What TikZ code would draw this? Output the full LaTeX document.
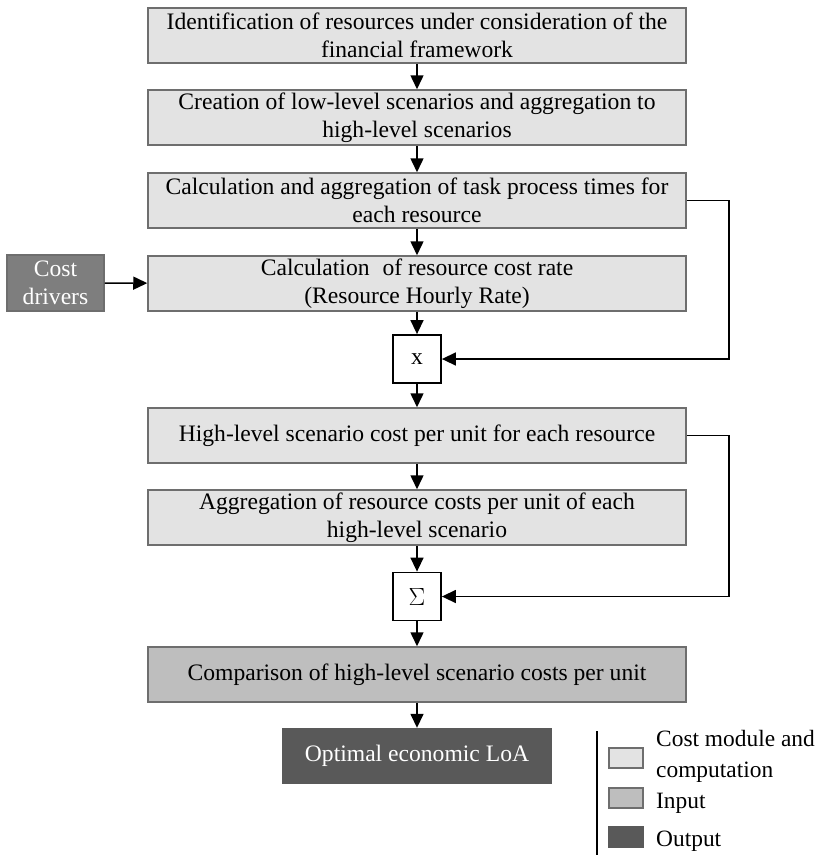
\documentclass[tikz,border=0pt]{standalone}
\usepackage{fontspec}
\setmainfont{Liberation Serif}
\usetikzlibrary{arrows.meta}
\definecolor{modfill}{HTML}{E3E3E3}
\definecolor{infill}{HTML}{BEBEBE}
\definecolor{drvfill}{HTML}{7E7E7E}
\definecolor{outfill}{HTML}{595959}
\definecolor{edge}{HTML}{6E6E6E}
\tikzset{
  boxfont/.style={font=\fontsize{23.6}{28}\selectfont},
  module/.style={draw=edge, line width=1.5pt, fill=modfill, minimum width=538pt,
    minimum height=55pt, inner sep=0pt, align=center, boxfont},
  inputbox/.style={module, fill=infill},
  driver/.style={draw=edge, line width=1.5pt, fill=drvfill, text=white,
    minimum width=97pt, minimum height=56pt, inner sep=0pt, align=center,
    boxfont},
  outbox/.style={draw=none, fill=outfill, text=white, minimum width=270pt,
    minimum height=56pt, inner sep=0pt, boxfont},
  opbox/.style={draw=black, line width=1.8pt, fill=white, minimum width=48pt,
    minimum height=48pt, inner sep=0pt, boxfont},
  flow/.style={draw=black, line width=1.5pt,
    -{Triangle[length=14pt,width=13pt]}},
  keybox/.style={draw=edge, line width=1.2pt, minimum width=34pt,
    minimum height=20pt, inner sep=0pt},
  keytext/.style={anchor=base west, inner sep=0pt,
    font=\fontsize{23.4}{30}\selectfont}
}
\begin{document}
\begin{tikzpicture}[x=1pt, y=-1pt]
\useasboundingbox (0,0) rectangle (821,855);

% main chain of steps
\node[module] (ident) at (417,35.5) {Identification of resources under consideration of the\\financial framework};
\node[module] (create) at (417,117.5) {Creation of low-level scenarios and aggregation to\\high-level scenarios};
\node[module] (times) at (417,200.5) {Calculation and aggregation of task process times for\\each resource};
\node[module] (rate) at (417,283.5) {Calculation\hspace{0.3em} of resource cost rate\\(Resource Hourly Rate)};
\node[opbox] (mult) at (417,359) {x};
\node[module] (hlcost) at (417,435.5) {High-level scenario cost per unit for each resource};
\node[module] (aggr) at (417,517.5) {Aggregation of resource costs per unit of each\\high-level scenario};
\node[opbox] (sum) at (417,596.5) {$\Sigma$};
\node[inputbox] (comp) at (417,674.5) {Comparison of high-level scenario costs per unit};
\node[outbox] (loa) at (417,756) {Optimal economic LoA};
\node[driver] (drivers) at (55.5,283) {Cost\\drivers};

% connectors
\draw[flow] (ident) -- (create);
\draw[flow] (create) -- (times);
\draw[flow] (times) -- (rate);
\draw[flow] (rate) -- (mult);
\draw[flow] (mult) -- (hlcost);
\draw[flow] (hlcost) -- (aggr);
\draw[flow] (aggr) -- (sum);
\draw[flow] (sum) -- (comp);
\draw[flow] (comp) -- (loa);
\draw[flow] (drivers) -- (rate);

% bypass lines on the right
\coordinate (tapA) at (729,200.5);
\coordinate (tapB) at (729,435.5);
\draw[flow] (times.east) -- (tapA) |- (mult.east);
\draw[flow] (hlcost.east) -- (tapB) |- (sum.east);

% key
\coordinate (keytop) at (597,731);
\coordinate (keybot) at (597,855);
\draw[line width=1.3pt] (keytop) -- (keybot);
\node[keybox, fill=modfill] (k1) at (626,758) {};
\node[keybox, fill=infill] (k2) at (626,798) {};
\node[keybox, fill=outfill, draw=outfill] (k3) at (626,837) {};
\node[keytext] (t1a) at (656,746) {Cost module and};
\node[keytext] (t1b) at (656,777) {computation};
\node[keytext] (t2) at (656,808) {Input};
\node[keytext] (t3) at (656,846) {Output};
\end{tikzpicture}
\end{document}
